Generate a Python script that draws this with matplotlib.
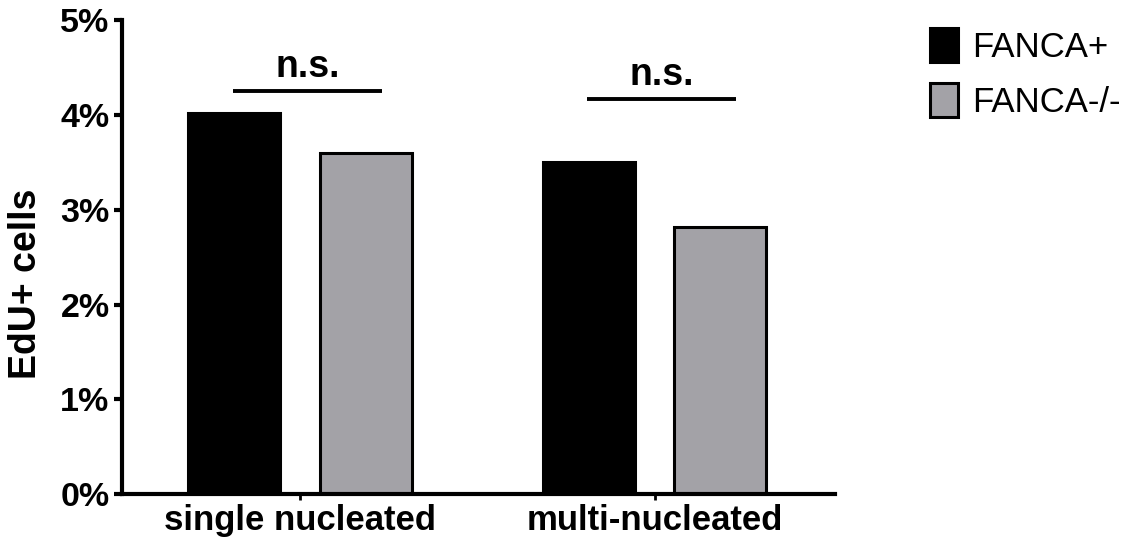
import numpy as np
import matplotlib.pyplot as plt

plt.rcParams['font.family'] = ['Liberation Sans', 'DejaVu Sans']

categories = ['single nucleated', 'multi-nucleated']
groups = ['FANCA+', 'FANCA-/-']
fanca_pos = [4.02, 3.50]
fanca_ko = [3.60, 2.82]
yticks = [0, 1, 2, 3, 4, 5]
sig_labels = ['n.s.', 'n.s.']
sig_heights = [4.25, 4.17]

fig = plt.figure(figsize=(11.41, 5.46), dpi=100)
ax = fig.add_axes([0.107, 0.095, 0.625, 0.868])

x = np.arange(len(categories))
w = 0.26
off = 0.186
ax.bar(x - off, fanca_pos, w, color='black', edgecolor='black', linewidth=2.2, label=groups[0])
ax.bar(x + off, fanca_ko, w, color='#a3a2a7', edgecolor='black', linewidth=2.2, label=groups[1])

# significance bars
for i in range(len(categories)):
    ax.plot([x[i] - 0.19, x[i] + 0.23], [sig_heights[i], sig_heights[i]], color='black', lw=2.8,
            solid_capstyle='butt', clip_on=False)
    ax.text(x[i] + 0.02, sig_heights[i] + 0.15, sig_labels[i], ha='center', va='baseline',
            fontsize=27, fontweight='bold')

ax.set_xlim(-0.503, 1.51)
ax.set_ylim(0, 5)
ax.set_yticks(yticks)
ax.set_yticklabels([f'{t}%' for t in yticks], fontsize=24.5, fontweight='bold')
ax.set_xticks(x)
ax.set_xticklabels(categories, fontsize=25, fontweight='bold')
ax.set_ylabel('EdU+ cells', fontsize=27, fontweight='bold')
ax.yaxis.set_label_coords(-0.11, 0.443)

for s in ['top', 'right']:
    ax.spines[s].set_visible(False)
for s in ['left', 'bottom']:
    ax.spines[s].set_linewidth(3)
ax.tick_params(axis='y', width=3, length=6, pad=3)
ax.tick_params(axis='x', width=2, length=4, pad=3)

leg = fig.legend(loc='upper left', bbox_to_anchor=(930 / 1141, 1 - 28 / 546), frameon=False, fontsize=25,
                 borderpad=0, borderaxespad=0,
                 handlelength=0.8, handleheight=1.12, handletextpad=0.4, labelspacing=0.56)

fig.savefig('out.png', dpi=100)
